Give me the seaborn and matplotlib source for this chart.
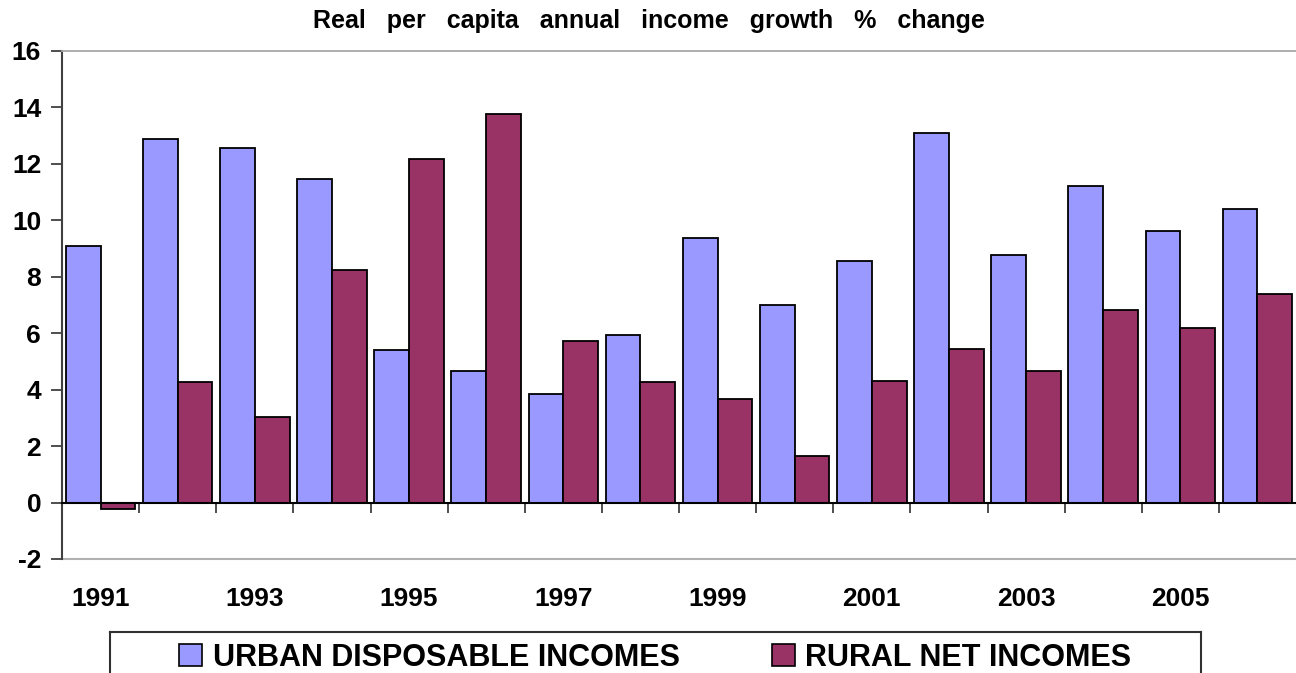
import matplotlib
matplotlib.use("Agg")
import matplotlib.pyplot as plt
import seaborn as sns
import pandas as pd
from matplotlib.patches import Patch

years = ["1991", "1992", "1993", "1994", "1995", "1996", "1997", "1998",
         "1999", "2000", "2001", "2002", "2003", "2004", "2005", "2006"]
urban = [9.08, 12.88, 12.54, 11.45, 5.40, 4.65, 3.85, 5.93,
         9.35, 7.00, 8.54, 13.09, 8.78, 11.20, 9.62, 10.41]
rural = [-0.24, 4.28, 3.02, 8.23, 12.16, 13.75, 5.71, 4.28,
         3.65, 1.65, 4.30, 5.44, 4.65, 6.81, 6.19, 7.40]
series = ["URBAN DISPOSABLE INCOMES", "RURAL NET INCOMES"]
colors = ["#9999FF", "#993366"]
title = "Real   per   capita   annual   income   growth   %   change"
yticks = [-2, 0, 2, 4, 6, 8, 10, 12, 14, 16]
label_years = ["1991", "1993", "1995", "1997", "1999", "2001", "2003", "2005"]

df = pd.DataFrame({
    "year": years * 2,
    "value": urban + rural,
    "series": [series[0]] * len(years) + [series[1]] * len(years),
})

sns.set_theme(style="white")
plt.rcParams["font.family"] = ["Liberation Sans", "DejaVu Sans"]
plt.rcParams["font.weight"] = "bold"
plt.rcParams["text.color"] = "black"
plt.rcParams["xtick.color"] = "black"
plt.rcParams["ytick.color"] = "black"
plt.rcParams["xtick.labelcolor"] = "black"
plt.rcParams["ytick.labelcolor"] = "black"

W, H = 1296, 673
fig = plt.figure(figsize=(W / 100, H / 100), dpi=100)
ax = fig.add_axes([62 / W, 1 - 559 / H, 1 - 62 / W, (559 - 50.7) / H])

sns.barplot(data=df, x="year", y="value", hue="series", order=years,
            hue_order=series, palette=colors, width=0.9, gap=0,
            edgecolor="black", linewidth=1.3, saturation=1,
            legend=False, ax=ax)

ax.set_xlim(-0.5, len(years) - 0.5)
ax.set_ylim(-2, 16)
ax.set_xlabel("")
ax.set_ylabel("")

# y axis
ax.set_yticks(yticks)
ax.set_yticklabels([str(t) for t in yticks], fontsize=19, fontweight="bold")
ax.tick_params(axis="y", direction="out", length=8, width=1.3, color="#404040",
               pad=7, left=True)

# bottom spine at zero with ticks at group boundaries
ax.spines["bottom"].set_position(("data", 0))
ax.spines["bottom"].set_color("black")
ax.spines["bottom"].set_linewidth(1.5)
ax.set_xticks([k + 0.5 for k in range(len(years) - 1)])
ax.set_xticklabels([])
ax.tick_params(axis="x", direction="out", length=7, width=1.3, color="#404040",
               bottom=True)

ax.spines["left"].set_color("#404040")
ax.spines["left"].set_linewidth(1.5)
ax.spines["top"].set_color("#a8a8a8")
ax.spines["top"].set_linewidth(1.3)
ax.spines["right"].set_visible(False)

# year labels on a secondary axis at the bottom of the plot
sec = ax.secondary_xaxis(0)
sec.set_xticks([years.index(y) for y in label_years])
sec.set_xticklabels(label_years, fontsize=19, fontweight="bold")
sec.tick_params(axis="x", length=0, pad=20)
sec.spines["bottom"].set_color("#b0b0b0")
sec.spines["bottom"].set_linewidth(1.5)

fig.text(649 / W, 1 - 21 / H, title, ha="center", va="center",
         fontsize=18, fontweight="bold")

# legend box
lax = fig.add_axes([110 / W, 1 - 680 / H, (1201 - 110) / W, 48 / H])
lax.set_xticks([])
lax.set_yticks([])
for s in lax.spines.values():
    s.set_visible(True)
    s.set_color("#303030")
    s.set_linewidth(1.5)
handles = [Patch(facecolor=c, edgecolor="black", linewidth=1.2) for c in colors]
lax.legend(handles, series, loc="center", bbox_to_anchor=(0.5, 0.46),
           ncol=2, frameon=False, prop={"size": 22, "weight": "bold"},
           handlelength=0.75, handleheight=0.75, handletextpad=0.35,
           columnspacing=3.0, borderpad=0)

fig.savefig("out.png", dpi=100)
